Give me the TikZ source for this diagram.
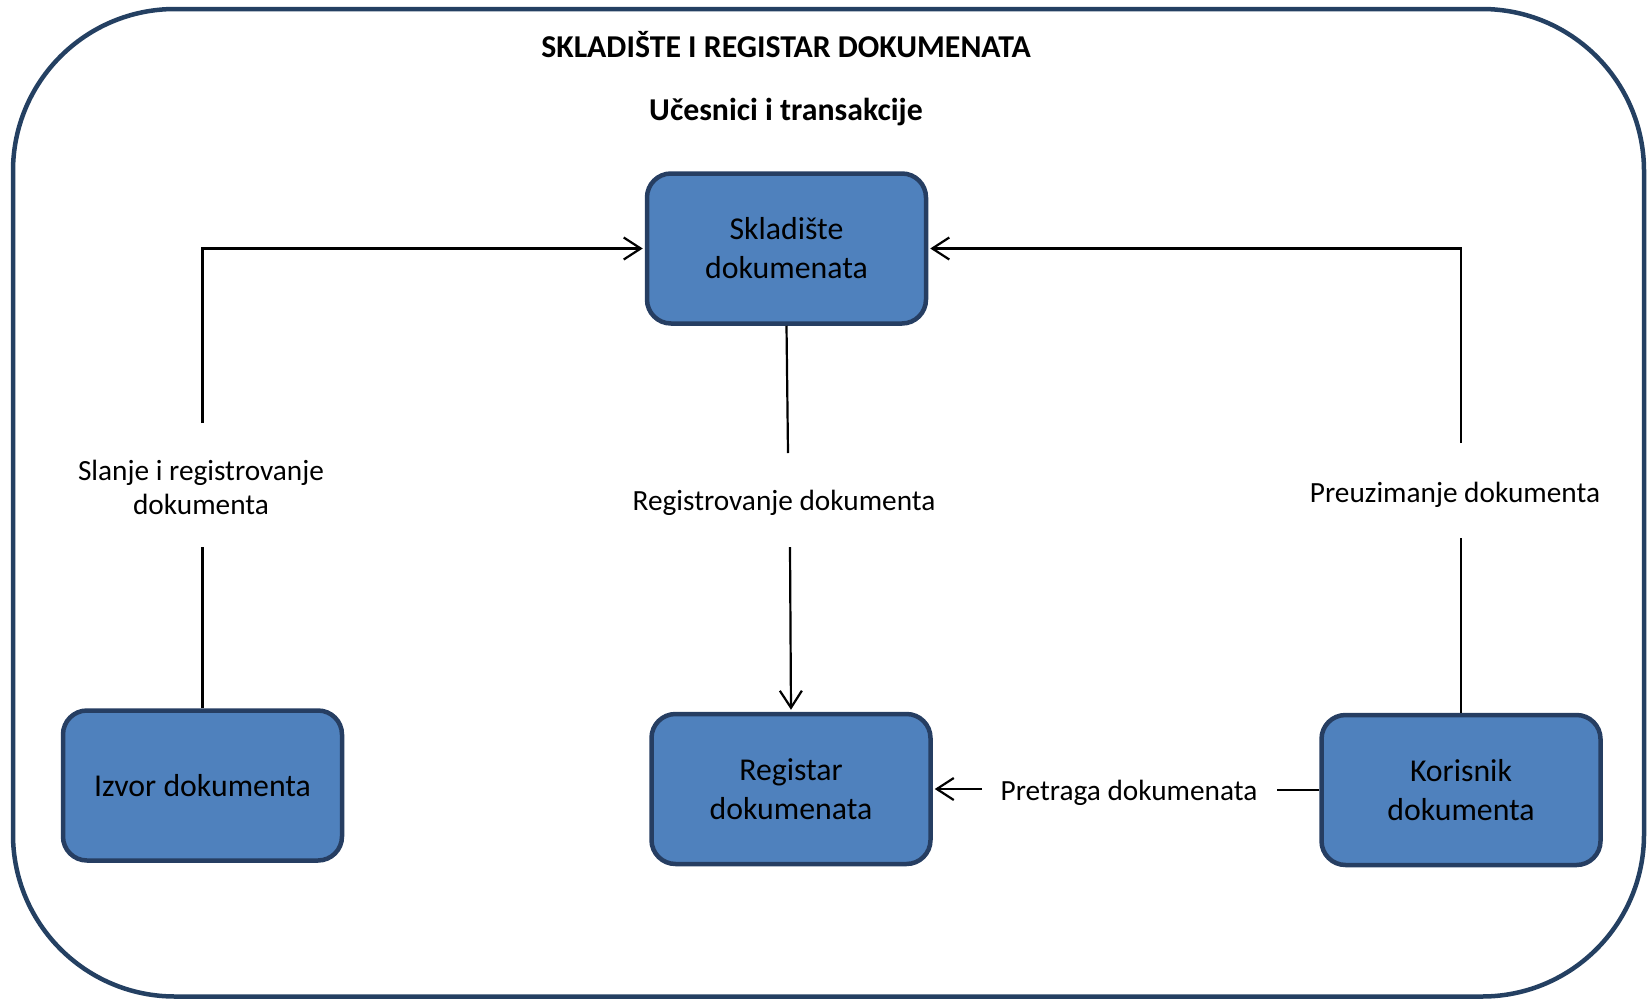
\documentclass[tikz,border=0pt]{standalone}
\usepackage{fontspec}
\setmainfont{Carlito}
\usetikzlibrary{arrows.meta}
\definecolor{boxfill}{HTML}{4F81BD}
\definecolor{boxedge}{RGB}{38,62,98}
\definecolor{frameedge}{RGB}{36,64,98}

\begin{document}
\begin{tikzpicture}[x=1pt,y=-1pt,
  actor/.style={draw=boxedge, line width=4.5pt, fill=boxfill, rounded corners=24pt,
    minimum width=279pt, minimum height=150pt, inner sep=0pt, align=center,
    font=\fontsize{31.8}{39}\selectfont},
  flow/.style={draw=black, line width=2.2pt},
  tip/.style={-{Straight Barb[length=17pt,width=22pt]}, shorten >=2pt},
  lbl/.style={font=\fontsize{29.3}{34}\selectfont, align=center, inner sep=0pt},
  ttl/.style={font=\bfseries\fontsize{31.8}{38}\selectfont, inner sep=0pt}]

\useasboundingbox (0,0) rectangle (1652,999);

% outer frame
\draw[frameedge, line width=4.5pt, rounded corners=162pt] (13,9) rectangle (1644,996.5);

% headings
\node[ttl, anchor=base] (title) at (786,57) {SKLADIŠTE I REGISTAR DOKUMENATA};
\node[ttl, anchor=base] (subtitle) at (786,120) {Učesnici i transakcije};

% participants
\node[actor] (skl) at (786.5,248.5) {Skladište\\dokumenata};
\node[actor] (izv) at (202.5,785.5) {Izvor dokumenta};
\node[actor] (reg) at (791,789) {Registar\\dokumenata};
\node[actor] (kor) at (1461,790) {Korisnik\\dokumenta};

% transaction labels
\node[lbl] (lslanje) at (201,487.5) {Slanje i registrovanje\\dokumenta};
\node[lbl, anchor=base] (lreg) at (784,510) {Registrovanje dokumenta};
\node[lbl, anchor=base] (lpre) at (1455,502) {Preuzimanje dokumenta};
\node[lbl, anchor=base] (lpret) at (1129,800) {Pretraga dokumenata};

% break points around the labels
\coordinate (a1) at (202.5,547);
\coordinate (a2) at (202.5,423);
\coordinate (b1) at (788,453);
\coordinate (b2) at (790,547);
\coordinate (c1) at (1461,538);
\coordinate (c2) at (1461,443);
\coordinate (d1) at (1277,790);
\coordinate (d2) at (982,789);

% connectors
\draw[flow] (izv.north) -- (a1);
\draw[flow, tip] (a2) |- (skl.west);
\draw[flow] (skl.south) -- (b1);
\draw[flow, tip] (b2) -- (reg.north);
\draw[flow] (kor.north) -- (c1);
\draw[flow, tip] (c2) |- (skl.east);
\draw[flow] (kor.west) -- (d1);
\draw[flow, tip] (d2) -- (reg.east);
\end{tikzpicture}
\end{document}
